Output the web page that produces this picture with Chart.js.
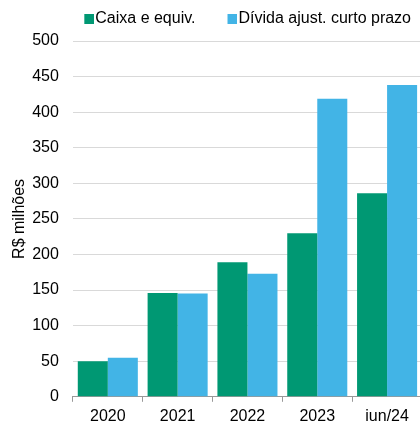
<!DOCTYPE html>
<html lang="pt">
<head>
    <meta charset="UTF-8">
    <title>Caixa x Dívida</title>
    <script src="https://cdn.jsdelivr.net/npm/chart.js"></script>
    <style>
        html, body {
            margin: 0;
            padding: 0;
            background: white;
            overflow: hidden;
        }

        .chart-container {
            width: 422px;
            height: 453px;
            margin-top: -22px;
        }
    </style>
</head>
<body>
    <div class="chart-container">
        <canvas id="chartCanvas"></canvas>
    </div>
    <script>
        const categories = ['2020', '2021', '2022', '2023', 'jun/24'];
        const caixa = [50, 146, 189, 230, 286];
        const dividaCurto = [55, 145, 173, 419, 438];
        const seriesNames = ['Caixa e equiv.', 'Dívida ajust. curto prazo'];
        const seriesColors = ['#009873', '#42b4e6'];

        Chart.defaults.font.family = '"Liberation Sans", Arial, sans-serif';
        Chart.defaults.font.size = 16;
        Chart.defaults.color = '#000';

        // quadradinho da legenda colado no texto
        function legendSquare(color) {
            const c = document.createElement('canvas');
            c.width = 16;
            c.height = 10;
            const g = c.getContext('2d');
            g.fillStyle = color;
            g.fillRect(6, 0, 10, 10);
            return c;
        }
        const squares = seriesColors.map(legendSquare);

        // espaço extra abaixo da legenda + deslocamento para a direita
        const legendTweak = {
            id: 'legendTweak',
            beforeInit(chart) {
                const fit = chart.legend.fit;
                chart.legend.fit = function () {
                    fit.bind(chart.legend)();
                    this.height += 4;
                };
            },
            afterLayout(chart) {
                chart.legend.left += 22;
                chart.legend.right += 22;
            }
        };

        const ctx = document.getElementById('chartCanvas').getContext('2d');
        new Chart(ctx, {
            type: 'bar',
            data: {
                labels: categories,
                datasets: [{
                    label: seriesNames[0],
                    data: caixa,
                    backgroundColor: seriesColors[0],
                    categoryPercentage: 0.86,
                    barPercentage: 1
                }, {
                    label: seriesNames[1],
                    data: dividaCurto,
                    backgroundColor: seriesColors[1],
                    categoryPercentage: 0.86,
                    barPercentage: 1
                }]
            },
            options: {
                responsive: true,
                maintainAspectRatio: false,
                animation: false,
                layout: { padding: { left: -1, right: 0, top: 0, bottom: 0 } },
                plugins: {
                    legend: {
                        position: 'top',
                        align: 'end',
                        labels: {
                            usePointStyle: true,
                            boxWidth: 2,
                            boxHeight: 10,
                            padding: 33,
                            generateLabels(chart) {
                                const items = Chart.defaults.plugins.legend.labels.generateLabels(chart);
                                items.forEach((it, i) => { it.pointStyle = squares[i]; });
                                return items;
                            }
                        }
                    },
                    tooltip: { enabled: false }
                },
                scales: {
                    x: {
                        grid: { drawOnChartArea: false, tickLength: 5, color: '#999' },
                        border: { color: '#999' },
                        ticks: { padding: 5 }
                    },
                    y: {
                        min: 0,
                        max: 500,
                        ticks: { stepSize: 50, padding: 14 },
                        grid: { drawTicks: false, color: '#d9d9d9' },
                        border: { display: false },
                        title: { display: true, text: 'R$ milhões', padding: { top: 11, bottom: -11 } }
                    }
                }
            },
            plugins: [legendTweak]
        });
    </script>
</body>
</html>
